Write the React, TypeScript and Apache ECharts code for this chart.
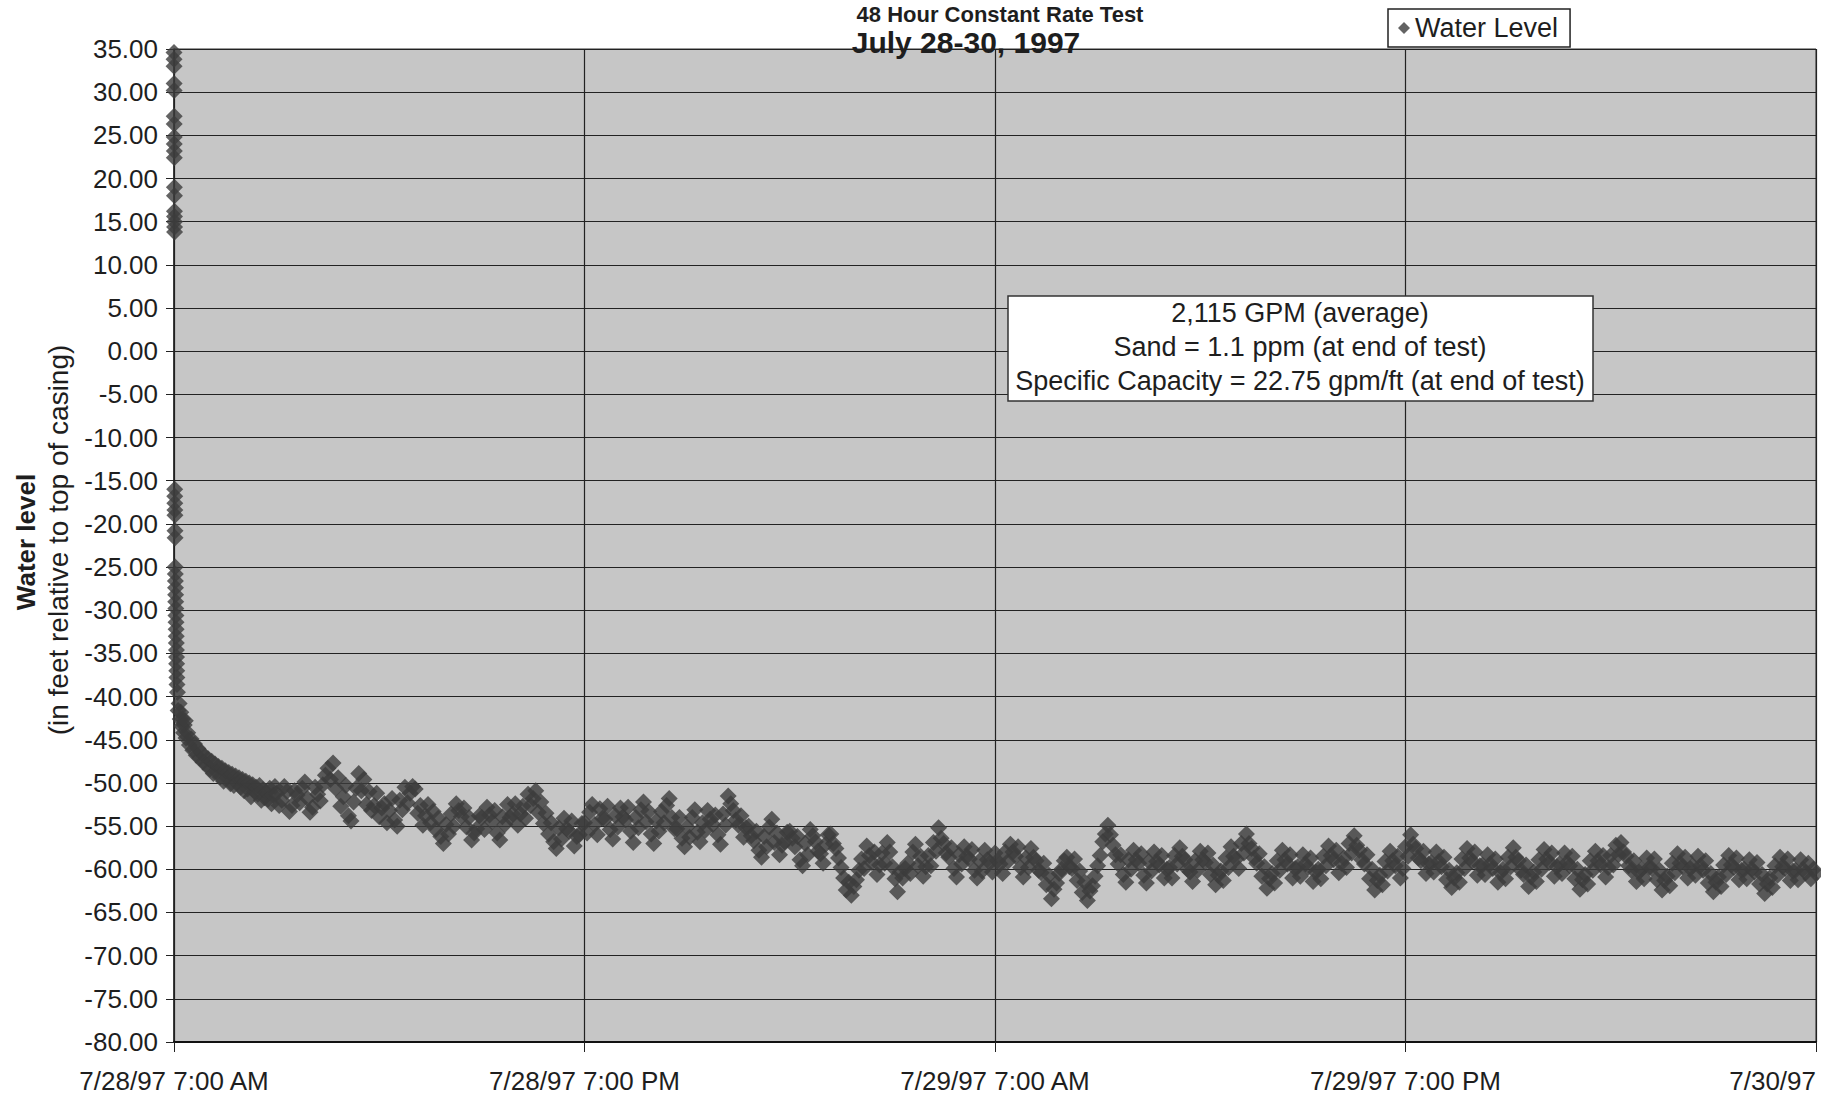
import React, { useEffect, useRef } from "react";
import * as echarts from "echarts";

const titleTop = "48 Hour Constant Rate Test";
const titleDates = "July 28-30, 1997";
const seriesName = "Water Level";
const xTickLabels = ["7/28/97 7:00 AM", "7/28/97 7:00 PM", "7/29/97 7:00 AM", "7/29/97 7:00 PM", "7/30/97"];
const yTitleMain = "Water level";
const yTitleSub = "(in feet relative to top of casing)";
const noteLines = [
  "2,115 GPM (average)",
  "Sand = 1.1 ppm (at end of test)",
  "Specific Capacity = 22.75 gpm/ft (at end of test)",
];

const yMin = -80;
const yMax = 35;
const yStep = 5;
const xMin = 0;
const xMax = 48;
const xStep = 12;

// elapsed hours since 7/28/97 7:00 AM, water level (ft)
const startReadings: [number, number][] = [
  [0.000, 34.6], [0.001, 33.8], [0.002, 33.0], [0.003, 31.0], [0.004, 30.2], [0.005, 27.2], [0.006, 26.3],
  [0.007, 24.8], [0.008, 24.0], [0.009, 23.2], [0.010, 22.4], [0.011, 19.0], [0.012, 18.0], [0.013, 16.2],
  [0.014, 15.6], [0.015, 15.0], [0.016, 14.4], [0.017, 13.8],
  [0.020, -16.0], [0.022, -16.8], [0.024, -17.6], [0.026, -18.4], [0.028, -19.0], [0.030, -20.8], [0.032, -21.6],
  [0.035, -25.0], [0.038, -25.8], [0.041, -26.6], [0.044, -27.4], [0.047, -28.2], [0.050, -29.0], [0.053, -29.8],
  [0.056, -30.6], [0.059, -31.4], [0.062, -32.2], [0.065, -33.0], [0.068, -33.8], [0.071, -34.6], [0.074, -35.4],
  [0.077, -36.2], [0.080, -37.0], [0.084, -37.8], [0.088, -38.6],
  [0.10, -39.5], [0.12, -41.6], [0.15, -40.8], [0.18, -42.6], [0.20, -41.8], [0.22, -43.4], [0.25, -42.6],
  [0.28, -44.2], [0.30, -43.3], [0.33, -42.8], [0.35, -44.8], [0.40, -44.2], [0.45, -45.6], [0.50, -44.9],
  [0.55, -46.2], [0.60, -45.5], [0.65, -46.8], [0.70, -46.0], [0.75, -47.1], [0.80, -46.5], [0.85, -47.6],
  [0.90, -46.9], [0.95, -47.9], [1.00, -47.2], [1.05, -48.4], [1.10, -47.5], [1.15, -48.9], [1.20, -47.8],
  [1.25, -48.7], [1.30, -48.1], [1.35, -49.3], [1.40, -48.3], [1.45, -49.8], [1.50, -48.6], [1.55, -49.4],
  [1.60, -48.8], [1.65, -50.1], [1.70, -49.0], [1.75, -50.3], [1.80, -49.2], [1.85, -50.0], [1.90, -49.4],
  [1.95, -50.5], [2.00, -49.6], [2.05, -50.9], [2.10, -49.8], [2.15, -50.7], [2.20, -50.0], [2.25, -51.6],
  [2.30, -50.2], [2.35, -51.0], [2.40, -50.5], [2.45, -51.3], [2.50, -50.3], [2.55, -52.0], [2.60, -50.8],
  [2.65, -51.7], [2.70, -51.1], [2.75, -51.9], [2.80, -50.6], [2.85, -52.4], [2.90, -51.4], [2.95, -50.4],
];

// later readings, one every 0.075 h, starting at the block's hour
const readingStepHours = 0.075;
const levelsFrom3h = [-51.2, -52.6, -52.0, -50.4, -51.0, -53.3, -52.6, -50.9, -51.4, -52.3, -50.6, -49.9, -51.8, -53.4, -52.8, -50.5, -51.3, -52.1, -50.2, -49.1, -48.3, -49.6, -47.7, -50.6, -49.4, -52.7, -51.6, -50.3, -53.8, -54.4, -52.2, -50.6, -48.9, -50.9, -49.6, -52.5, -51.0, -53.2, -52.6, -51.2];
const levelsFrom6h = [-53.9, -52.9, -52.4, -54.6, -53.2, -51.8, -54.3, -55.0, -52.0, -53.1, -50.5, -52.3, -51.2, -50.4, -50.7, -53.5, -52.6, -54.9, -53.8, -52.5, -54.6, -53.3, -55.4, -54.1, -56.2, -57.0, -54.8, -55.9, -53.6, -55.0, -52.4, -53.2, -53.9, -52.9, -55.1, -54.0, -56.6, -55.8, -55.3, -53.8];
const levelsFrom9h = [-54.0, -55.4, -52.8, -53.7, -54.5, -53.2, -55.8, -56.6, -53.9, -54.8, -52.5, -54.0, -53.6, -52.4, -54.9, -53.6, -52.7, -54.1, -51.3, -52.6, -51.8, -50.9, -53.4, -52.2, -54.7, -53.5, -55.9, -54.6, -56.8, -57.6, -55.2, -56.5, -54.1, -55.3, -55.6, -54.4, -57.3, -56.2, -56.0, -54.7];
const levelsFrom12h = [-54.6, -55.8, -53.4, -52.5, -54.8, -56.0, -53.0, -54.1, -54.2, -52.7, -55.4, -56.5, -53.8, -55.1, -52.9, -53.9, -54.3, -52.8, -55.6, -56.9, -54.0, -55.2, -53.1, -52.2, -54.5, -53.3, -55.9, -57.0, -54.4, -55.6, -53.3, -54.6, -52.6, -51.8, -54.0, -55.3, -55.3, -54.0, -56.4, -57.4];
const levelsFrom15h = [-55.1, -56.3, -54.0, -53.1, -55.7, -56.8, -54.6, -55.5, -53.2, -54.2, -54.8, -53.7, -56.0, -57.1, -53.6, -54.9, -51.5, -52.4, -53.2, -54.3, -54.9, -53.8, -56.3, -55.2, -55.0, -56.1, -56.7, -55.6, -57.8, -58.6, -56.2, -57.4, -55.1, -54.2, -56.9, -55.8, -58.3, -57.2, -56.8, -55.7];
const levelsFrom18h = [-55.6, -56.4, -57.4, -56.2, -58.9, -59.6, -57.0, -58.3, -55.4, -56.1, -56.8, -57.9, -58.2, -59.3, -57.1, -56.0, -55.9, -57.0, -57.6, -58.7, -59.8, -61.0, -62.4, -61.5, -63.0, -62.0, -61.2, -60.1, -58.8, -59.9, -57.3, -58.4, -59.2, -58.0, -60.6, -59.5, -58.1, -59.3, -56.9, -58.0];
const levelsFrom21h = [-59.7, -61.1, -62.6, -60.3, -61.0, -59.9, -59.3, -60.5, -58.0, -57.1, -59.6, -58.5, -60.8, -59.7, -58.4, -59.6, -56.9, -57.9, -55.2, -56.4, -57.0, -58.1, -58.6, -57.5, -59.9, -60.9, -58.3, -59.4, -57.4, -58.5, -58.8, -57.7, -60.1, -61.0, -59.0, -60.2, -57.8, -58.9, -59.2, -60.3];
const levelsFrom24h = [-58.1, -59.0, -59.4, -60.5, -58.0, -59.1, -57.1, -58.0, -58.5, -57.4, -59.8, -60.9, -58.7, -59.8, -57.6, -58.6, -59.0, -60.1, -60.4, -59.3, -61.8, -60.7, -63.4, -62.3, -61.6, -60.5, -60.0, -59.0, -58.6, -59.7, -59.9, -58.8, -61.3, -60.2, -62.7, -61.5, -63.6, -62.5, -61.9, -60.8];
const levelsFrom27h = [-59.6, -58.4, -56.8, -55.9, -54.9, -56.0, -57.2, -58.3, -59.4, -58.3, -60.6, -61.5, -58.9, -60.0, -57.8, -58.9, -59.3, -58.2, -60.7, -61.6, -59.1, -60.2, -58.0, -59.1, -59.5, -58.4, -61.0, -60.0, -59.8, -61.0, -58.4, -59.4, -57.5, -58.5, -58.9, -60.0, -60.3, -61.4, -59.0, -60.1];
const levelsFrom30h = [-57.9, -58.9, -59.2, -58.1, -60.6, -59.5, -61.8, -60.7, -60.2, -61.3, -58.7, -59.8, -57.4, -58.5, -58.8, -59.9, -57.0, -58.1, -55.9, -57.0, -57.6, -58.7, -59.3, -58.2, -60.8, -59.7, -62.2, -61.1, -60.5, -61.6, -59.0, -60.1, -57.8, -58.9, -59.4, -58.3, -61.0, -59.9, -59.7, -60.8];
const levelsFrom33h = [-58.3, -59.4, -59.8, -58.7, -61.4, -60.3, -60.0, -61.1, -58.5, -59.6, -57.3, -58.4, -58.9, -57.8, -60.4, -59.3, -58.7, -59.8, -57.0, -58.1, -56.1, -57.2, -57.8, -58.9, -59.4, -58.3, -61.1, -60.0, -62.4, -61.3, -60.7, -61.8, -59.1, -60.2, -57.9, -59.0, -59.6, -58.5, -61.0, -59.9];
const levelsFrom36h = [-57.4, -58.5, -56.0, -57.1, -57.6, -58.7, -59.0, -57.9, -60.5, -59.4, -59.2, -60.3, -58.0, -59.1, -59.7, -58.6, -61.2, -60.1, -62.1, -61.0, -60.4, -61.5, -58.8, -59.9, -57.6, -58.7, -59.1, -58.0, -60.7, -59.6, -59.5, -60.6, -58.3, -59.4, -59.9, -58.8, -61.5, -60.4, -60.0, -61.1];
const levelsFrom39h = [-58.6, -59.7, -57.5, -58.6, -59.0, -60.1, -60.6, -59.5, -62.0, -60.9, -60.3, -61.4, -58.9, -60.0, -57.7, -58.8, -59.2, -58.1, -60.8, -59.7, -59.4, -60.5, -58.1, -59.2, -59.6, -58.5, -61.1, -60.0, -62.3, -61.2, -60.6, -61.7, -59.0, -60.1, -57.9, -59.0, -59.5, -58.4, -60.9, -59.8];
const levelsFrom42h = [-58.4, -59.5, -57.2, -58.3, -56.9, -58.0, -58.5, -59.6, -60.1, -59.0, -61.4, -60.3, -60.0, -61.1, -58.7, -59.8, -59.9, -58.8, -61.2, -60.1, -62.4, -61.3, -60.8, -61.9, -59.3, -60.4, -58.2, -59.3, -59.7, -58.6, -61.0, -59.9, -59.6, -60.7, -58.5, -59.6, -60.1, -59.0, -61.6, -60.5];
const levelsFrom45h = [-62.6, -61.5, -60.9, -62.0, -59.5, -60.6, -58.4, -59.5, -59.8, -58.7, -61.2, -60.1, -60.0, -61.1, -58.9, -60.0, -60.3, -59.2, -61.7, -60.6, -62.8, -61.7, -61.0, -62.1, -59.6, -60.7, -58.6, -59.7, -59.9, -58.8, -61.3, -60.2, -60.1, -61.2, -58.9, -60.0, -60.4, -59.3, -61.1, -60.0, -60.5];

const FONT = '"Liberation Sans", Arial, Helvetica, sans-serif';

export default function App() {
  const ref = useRef<HTMLDivElement>(null);

  useEffect(() => {
    if (!ref.current) return;
    const chart = echarts.init(ref.current, null, { renderer: "svg" });

    const blocks: [number, number[]][] = [
      [3, levelsFrom3h], [6, levelsFrom6h], [9, levelsFrom9h], [12, levelsFrom12h], [15, levelsFrom15h],
      [18, levelsFrom18h], [21, levelsFrom21h], [24, levelsFrom24h], [27, levelsFrom27h], [30, levelsFrom30h],
      [33, levelsFrom33h], [36, levelsFrom36h], [39, levelsFrom39h], [42, levelsFrom42h], [45, levelsFrom45h],
    ];
    const data: [number, number][] = startReadings.map((p) => [p[0], p[1]]);
    blocks.forEach(([start, vals]) => {
      vals.forEach((v, i) => data.push([+(start + i * readingStepHours).toFixed(3), v]));
    });

    const textBase = { fontFamily: FONT, fill: "#1e1e1e" };
    const centered = {
      align: "center",
      verticalAlign: "middle",
      textAlign: "center",
      textVerticalAlign: "middle",
    };

    chart.setOption({
      animation: false,
      backgroundColor: "#ffffff",
      textStyle: { fontFamily: FONT },
      grid: {
        left: 174,
        top: 49,
        right: 5,
        bottom: 71,
        show: true,
        backgroundColor: "#c6c6c6",
        borderColor: "#333",
        borderWidth: 1,
      },
      legend: {
        show: true,
        data: [seriesName],
        left: 1388,
        top: 9,
        icon: "diamond",
        itemWidth: 12,
        itemHeight: 12,
        padding: [5, 12, 5, 10],
        borderColor: "#222",
        borderWidth: 1.5,
        backgroundColor: "#fff",
        textStyle: { fontSize: 27, color: "#1e1e1e", fontFamily: FONT, lineHeight: 28 },
      },
      xAxis: {
        type: "value",
        min: xMin,
        max: xMax,
        interval: xStep,
        axisLine: { show: true, onZero: false, lineStyle: { color: "#111", width: 2 } },
        axisTick: { show: true, length: 10, lineStyle: { color: "#222", width: 1 } },
        axisLabel: {
          fontSize: 26,
          color: "#1e1e1e",
          margin: 26,
          alignMaxLabel: "right",
          formatter: (v: number) => xTickLabels[Math.round((v - xMin) / xStep)] ?? "",
        },
        splitLine: { show: true, lineStyle: { color: "#222", width: 1.2 } },
      },
      yAxis: {
        type: "value",
        min: yMin,
        max: yMax,
        interval: yStep,
        axisLine: { show: true, onZero: false, lineStyle: { color: "#222", width: 1.5 } },
        axisTick: { show: true, length: 8, lineStyle: { color: "#222", width: 1 } },
        axisLabel: {
          fontSize: 26,
          color: "#1e1e1e",
          margin: 16,
          formatter: (v: number) => v.toFixed(2),
        },
        splitLine: { show: true, lineStyle: { color: "#222", width: 1.2 } },
      },
      series: [
        {
          name: seriesName,
          type: "scatter",
          symbol: "diamond",
          symbolSize: 17,
          clip: false,
          itemStyle: { color: "#3c3c3c" },
          data,
          z: 3,
        },
      ],
      graphic: [
        {
          type: "text",
          x: 1000,
          y: 14,
          z: 100,
          style: { ...textBase, ...centered, text: titleTop, fontSize: 22, fontWeight: "bold" },
        },
        {
          type: "text",
          x: 966,
          y: 42,
          z: 100,
          style: { ...textBase, ...centered, text: titleDates, fontSize: 30, fontWeight: "bold" },
        },
        {
          type: "text",
          x: 26,
          y: 542,
          rotation: Math.PI / 2,
          z: 100,
          style: { ...textBase, ...centered, text: yTitleMain, fontSize: 26, fontWeight: "bold" },
        },
        {
          type: "text",
          x: 58,
          y: 540,
          rotation: Math.PI / 2,
          z: 100,
          style: { ...textBase, ...centered, text: yTitleSub, fontSize: 28 },
        },
        {
          type: "rect",
          z: 100,
          shape: { x: 1008, y: 296, width: 585, height: 105 },
          style: { fill: "#ffffff", stroke: "#333", lineWidth: 1.5 },
        },
        ...noteLines.map((line, i) => ({
          type: "text",
          x: 1300,
          y: 313 + i * 34,
          z: 101,
          style: { ...textBase, ...centered, text: line, fontSize: 27 },
        })),
      ],
    });

    return () => chart.dispose();
  }, []);

  return (
    <div
      ref={ref}
      style={{ position: "fixed", left: 0, top: 0, width: "1821px", height: "1113px" }}
    />
  );
}
